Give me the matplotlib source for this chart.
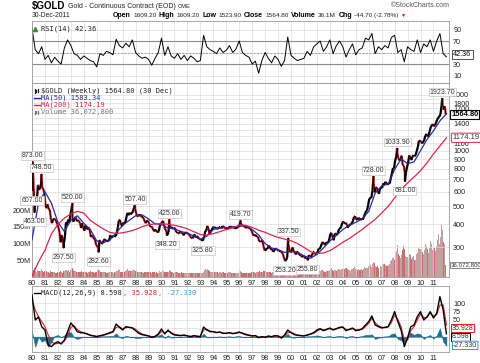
import numpy as np
import matplotlib
matplotlib.use("Agg")
import matplotlib.pyplot as plt
from matplotlib.collections import LineCollection
from matplotlib.lines import Line2D

plt.rcParams['font.family'] = ['Liberation Sans', 'DejaVu Sans']

# monthly closes, Jan 1980 .. Dec 2011
gold_close = [
    690, 637, 494, 518, 535, 653, 614, 631, 666, 629, 619, 590,   # 1980
    506, 489, 513, 482, 479, 426, 406, 425, 428, 427, 414, 400,   # 1981
    384, 362, 320, 350, 335, 315, 342, 411, 397, 424, 410, 448,   # 1982
    481, 420, 414, 430, 437, 416, 422, 416, 405, 382, 405, 383,   # 1983
    370, 394, 388, 375, 384, 373, 342, 348, 343, 333, 329, 309,   # 1984
    303, 299, 329, 321, 314, 317, 327, 333, 326, 325, 325, 327,   # 1985
    350, 338, 344, 346, 343, 346, 357, 384, 418, 423, 398, 391,   # 1986
    408, 405, 409, 438, 461, 448, 462, 453, 460, 468, 492, 487,   # 1987
    458, 442, 444, 451, 451, 437, 437, 431, 413, 406, 420, 418,   # 1988
    404, 388, 390, 384, 371, 367, 375, 365, 362, 367, 394, 401,   # 1989
    410, 417, 393, 374, 369, 352, 362, 395, 389, 381, 381, 378,   # 1990
    383, 363, 363, 358, 357, 367, 362, 356, 349, 359, 360, 361,   # 1991
    354, 354, 345, 338, 337, 341, 353, 340, 345, 344, 335, 334,   # 1992
    329, 329, 330, 342, 367, 371, 392, 379, 355, 364, 373, 383,   # 1993
    387, 382, 384, 377, 381, 385, 385, 380, 391, 389, 384, 379,   # 1994
    379, 377, 382, 391, 385, 387, 386, 383, 383, 383, 386, 387,   # 1995
    400, 405, 396, 393, 392, 385, 383, 387, 383, 381, 378, 369,   # 1996
    355, 347, 352, 344, 344, 341, 324, 324, 323, 325, 306, 289,   # 1997
    289, 297, 296, 308, 299, 292, 293, 284, 289, 296, 294, 291,   # 1998
    287, 287, 286, 282, 277, 262, 256, 257, 265, 311, 293, 283,   # 1999
    284, 300, 286, 280, 275, 285, 282, 274, 273, 270, 266, 272,   # 2000
    265, 262, 263, 260, 272, 270, 268, 272, 283, 283, 276, 276,   # 2001
    282, 295, 294, 302, 314, 321, 313, 310, 319, 317, 319, 333,   # 2002
    356, 359, 340, 328, 355, 356, 351, 360, 378, 379, 389, 407,   # 2003
    414, 405, 406, 404, 384, 392, 398, 400, 405, 420, 439, 442,   # 2004
    424, 423, 434, 429, 422, 430, 424, 437, 456, 470, 476, 510,   # 2005
    549, 555, 557, 610, 676, 596, 633, 632, 598, 585, 627, 629,   # 2006
    631, 665, 655, 679, 666, 655, 665, 665, 712, 754, 806, 803,   # 2007
    889, 922, 968, 909, 888, 889, 939, 839, 829, 760, 760, 816,   # 2008
    858, 943, 924, 890, 928, 945, 934, 949, 996, 1043, 1127, 1134,  # 2009
    1117, 1095, 1114, 1148, 1205, 1232, 1193, 1215, 1271, 1343, 1370, 1391,  # 2010
    1356, 1372, 1424, 1473, 1510, 1529, 1572, 1756, 1772, 1666, 1739, 1564.8,  # 2011
]

# weekly volume level per month, millions
gold_volume = [
    24, 20, 26, 18, 16, 20, 17, 19, 24, 18, 15, 17,
    16, 18, 15, 14, 13, 17, 15, 14, 16, 13, 12, 14,
    13, 15, 18, 14, 13, 19, 17, 22, 18, 20, 16, 21,
    26, 28, 20, 17, 18, 15, 16, 14, 15, 17, 14, 16,
    15, 14, 16, 13, 14, 15, 17, 15, 14, 13, 15, 16,
    18, 20, 22, 16, 15, 14, 16, 15, 14, 13, 14, 15,
    16, 14, 15, 13, 14, 15, 17, 19, 24, 20, 16, 15,
    18, 16, 17, 22, 25, 18, 20, 17, 18, 21, 22, 19,
    17, 16, 15, 14, 15, 16, 14, 13, 15, 14, 16, 15,
    14, 15, 13, 14, 16, 15, 13, 14, 12, 13, 17, 16,
    20, 17, 16, 15, 14, 16, 15, 22, 18, 16, 14, 13,
    16, 14, 15, 12, 13, 12, 14, 13, 12, 13, 12, 11,
    12, 11, 13, 12, 11, 12, 13, 11, 12, 11, 12, 11,
    12, 13, 14, 20, 24, 22, 25, 20, 17, 15, 14, 16,
    15, 14, 16, 14, 13, 15, 14, 13, 15, 14, 13, 12,
    13, 12, 14, 15, 13, 12, 13, 12, 11, 12, 11, 12,
    17, 19, 14, 13, 12, 13, 12, 11, 12, 11, 13, 14,
    16, 15, 14, 13, 15, 14, 18, 15, 14, 16, 18, 17,
    19, 15, 14, 16, 15, 13, 14, 15, 17, 16, 14, 13,
    14, 13, 15, 14, 17, 19, 20, 16, 22, 24, 16, 13,
    14, 18, 15, 12, 13, 14, 12, 11, 12, 11, 12, 13,
    12, 13, 12, 14, 17, 14, 12, 13, 18, 15, 13, 12,
    16, 20, 17, 18, 22, 20, 18, 16, 19, 17, 18, 20,
    24, 26, 22, 18, 22, 20, 19, 21, 24, 22, 23, 25,
    27, 24, 26, 28, 24, 20, 22, 19, 23, 26, 29, 24,
    22, 21, 24, 20, 22, 24, 20, 23, 30, 28, 26, 34,
    38, 35, 30, 40, 46, 42, 34, 30, 33, 28, 32, 30,
    36, 40, 38, 35, 32, 34, 36, 38, 48, 52, 58, 50,
    72, 78, 95, 70, 62, 58, 66, 80, 92, 85, 62, 60,
    58, 70, 65, 55, 60, 62, 50, 52, 68, 72, 88, 84,
    82, 75, 70, 80, 100, 92, 85, 72, 88, 108, 98, 80,
    86, 78, 92, 110, 130, 98, 120, 159, 140, 105, 100, 36,
]

# annotated swing highs / lows
swing_dates = [1980.0, 1980.055, 1980.2, 1980.72, 1982.45, 1983.12, 1985.15, 1987.95,
               1990.42, 1990.6, 1993.2, 1996.1, 1999.55, 1999.78, 2001.3, 2006.37,
               2008.2, 2008.8, 2011.68]
swing_values = [607.0, 873.0, 463.0, 748.5, 297.5, 520.0, 282.6, 507.4,
                348.2, 425.0, 325.8, 419.7, 253.2, 337.5, 255.8, 728.0,
                1033.9, 681.0, 1923.7]
swing_side = ['low', 'high', 'low', 'high', 'low', 'high', 'low', 'high',
              'low', 'high', 'low', 'high', 'low', 'high', 'low', 'high',
              'high', 'low', 'high']

# moving averages, every half year 1980.0 .. 2012.0
ma_dates = [1980 + 0.5 * i for i in range(65)]
ma50 = [330, 520, 600, 520, 410, 366, 420, 445, 405, 375, 325, 318, 328, 360, 395, 420,
        445, 450, 428, 402, 400, 382, 378, 366, 358, 346, 332, 345, 375, 383, 384, 387,
        390, 393, 375, 350, 315, 298, 292, 282, 285, 283, 270, 262, 275, 298, 325, 348,
        375, 395, 410, 428, 470, 590, 645, 660, 790, 905, 850, 870, 1000, 1150, 1280, 1450,
        1583.34]
ma200 = [210, 250, 290, 355, 400, 432, 455, 470, 460, 420, 398, 378, 362, 357, 360, 366,
         375, 388, 398, 402, 403, 400, 395, 388, 378, 365, 352, 350, 356, 365, 375, 383,
         396, 395, 385, 372, 362, 350, 340, 333, 326, 315, 300, 285, 278, 280, 288, 303,
         320, 335, 355, 375, 400, 425, 460, 500, 555, 615, 670, 720, 780, 860, 960, 1060,
         1174.19]

# RSI(14), MACD(12,26,9) read quarterly 1980.0 .. 2012.0
ind_dates = [1980 + 0.25 * i for i in range(129)]
rsi = [92, 55, 48, 60, 38, 45, 32, 42, 35, 30, 58, 72, 62, 48, 45, 38,
       44, 40, 36, 34, 25, 48, 45, 52, 50, 46, 73, 62, 58, 66, 60, 72,
       50, 44, 40, 42, 38, 28, 40, 50, 75, 45, 60, 44, 40, 48, 38, 45,
       36, 44, 40, 34, 36, 80, 60, 55, 52, 48, 58, 50, 54, 62, 50, 56,
       70, 50, 45, 42, 30, 35, 14, 36, 50, 40, 32, 44, 38, 26, 36, 77,
       45, 40, 36, 38, 40, 52, 45, 60, 65, 70, 52, 60, 72, 48, 62, 70,
       60, 42, 55, 65, 46, 55, 58, 75, 72, 83, 48, 60, 55, 62, 58, 76,
       80, 50, 55, 34, 60, 55, 52, 72, 50, 65, 60, 72, 52, 70, 83, 48,
       42.36]
macd = [125, 50, 59, 30, 20, -25, -30, -20, -15, -22, -10, 15, 41, 30, 15, 12,
        11, 8, 4, 2, 0, 3, 5, 8, 12, 15, 38, 28, 20, 30, 28, 26,
        18, 10, 6, 4, 2, -2, 1, 8, 23, 8, 20, 10, 5, 4, 3, 5,
        2, 0, 3, 1, 0, 29, 20, 15, 15, 12, 14, 10, 10, 12, 9, 11,
        14, 10, 6, 4, 2, 3, -3, 0, -2, 2, 0, 3, 2, -4, 5, 20,
        12, 6, 4, 3, 2, 5, 8, 12, 20, 24, 18, 22, 26, 20, 24, 28,
        29, 18, 22, 26, 18, 20, 24, 35, 45, 62, 35, 30, 26, 28, 30, 50,
        75, 45, 20, -30, -4, 30, 35, 60, 75, 50, 59, 75, 56, 70, 120, 80,
        8.598]
signal = [110, 80, 60, 45, 30, 5, -15, -22, -20, -20, -14, 2, 28, 32, 22, 15,
          12, 9, 5, 3, 1, 2, 4, 7, 10, 13, 28, 30, 24, 27, 28, 27,
          22, 14, 8, 5, 3, 0, 0, 5, 16, 12, 16, 13, 7, 5, 4, 4,
          3, 1, 2, 2, 1, 20, 22, 17, 15, 13, 13, 11, 10, 11, 10, 10,
          12, 11, 8, 5, 3, 3, -1, -1, -1, 1, 0, 2, 2, -1, 2, 12,
          14, 9, 5, 4, 3, 4, 7, 10, 16, 22, 20, 21, 24, 22, 23, 26,
          28, 22, 21, 24, 21, 20, 22, 30, 40, 55, 42, 33, 28, 27, 29, 42,
          65, 52, 30, -10, -10, 18, 30, 50, 68, 57, 58, 70, 62, 66, 95, 95,
          35.928]

year_ticks = list(range(1980, 2012))
year_labels = [str(y)[2:] for y in year_ticks]
price_grid = [300, 400, 500, 600, 700, 800, 900, 1000, 1100, 1200, 1300, 1400,
              1500, 1600, 1700, 1800, 1900, 2000]
price_labelled = [300, 400, 500, 600, 700, 800, 900, 1000, 1100, 1400, 1700, 1800, 2000]
volume_ticks = [50, 100, 150, 200]

GRID = '#dcdcdc'
EDGE = '#9a9a9a'
MONO = 'DejaVu Sans Mono'

fig = plt.figure(figsize=(4.8, 3.63), dpi=100)
W, H = 480.0, 363.0
renderer = fig.canvas.get_renderer()


def panel(top, bottom):
    return fig.add_axes([32 / W, 1 - bottom / H, 417 / W, (bottom - top) / H])


def style(a, show_years):
    a.set_xlim(1980, 2012.2)
    a.set_xticks(year_ticks)
    a.set_xticklabels(year_labels if show_years else [])
    a.tick_params(axis='x', length=0, pad=2, labelsize=5.3, colors='#222222')
    a.tick_params(axis='y', length=0, pad=3, labelsize=5.2, colors='#222222')
    a.yaxis.tick_right()
    a.grid(True, color=GRID, lw=0.5)
    a.set_axisbelow(True)
    for s in a.spines.values():
        s.set_color(EDGE)
        s.set_linewidth(0.6)


def flow(x0, y, pieces, gap=2.0):
    x = x0
    for txt, bold, size, color in pieces:
        t = fig.text(x / W, 1 - y / H, txt, fontsize=size, color=color,
                     fontweight='bold' if bold else 'normal', va='center')
        x = t.get_window_extent(renderer).x1 + gap
    return x


# ---- RSI panel ----
ax_rsi = panel(21, 83)
style(ax_rsi, False)
ax_rsi.set_ylim(-3, 104.8)
ax_rsi.set_yticks([10, 30, 50, 70, 90])
ax_rsi.set_yticklabels(['10', '30', '', '70', '90'])
ax_rsi.axhline(70, color='#8c8c8c', lw=0.8)
ax_rsi.axhline(30, color='#8c8c8c', lw=0.8)
ax_rsi.axhline(50, color='#9a9a9a', lw=0.7, ls=(0, (2, 1.5)))
ax_rsi.plot(ind_dates, rsi, color='black', lw=0.7)
ax_rsi.text(0.022, 0.93, 'RSI(14) 42.36', transform=ax_rsi.transAxes, fontsize=5,
            family=MONO, va='top', color='#222222')
ax_rsi.plot([0.008], [0.87], marker='^', ms=3, color='#3a8a3a', transform=ax_rsi.transAxes,
            clip_on=False)
ax_rsi.annotate('42.36', xy=(1.0, rsi[-1]), xycoords=('axes fraction', 'data'),
                xytext=(3, 1.5), textcoords='offset points', fontsize=5.2, va='center',
                bbox=dict(boxstyle='square,pad=0.15', fc='white', ec='#333333', lw=0.6),
                annotation_clip=False)

# ---- price panel ----
ax = panel(83, 277)
ax_vol = ax.twinx()
ax.set_zorder(2)
ax.patch.set_visible(False)
ax_vol.set_zorder(1)

months_x = 1980 + (np.arange(len(gold_close)) + 0.5) / 12
prev = np.concatenate([[gold_close[0]], gold_close[:-1]])
vol_colors = np.where(np.array(gold_close) < prev, '#cd6e6e', '#c4a0a0')
ax_vol.bar(months_x, gold_volume, width=1 / 12, color=vol_colors, linewidth=0)
ax_vol.set_ylim(0, 581)
ax_vol.set_yticks(volume_ticks)
ax_vol.set_yticklabels([f'{v}M' for v in volume_ticks])
ax_vol.yaxis.tick_left()
ax_vol.tick_params(axis='y', length=0, pad=1, labelsize=5.2, colors='#222222')
for s in ax_vol.spines.values():
    s.set_visible(False)

style(ax, True)
ax.set_yscale('log')
ax.set_ylim(207.6, 2322)
ax.set_yticks(price_grid)
ax.set_yticklabels([str(p) if p in price_labelled else '' for p in price_grid])
ax.minorticks_off()
ax.tick_params(axis='y', which='both', length=0)

px = np.concatenate([months_x, swing_dates])
py = np.concatenate([gold_close, swing_values])
order = np.argsort(px)
px, py = px[order], py[order]
pts = np.column_stack([px, py])
segs = np.stack([pts[:-1], pts[1:]], axis=1)
seg_cols = ['#d01010' if b < a else 'black' for a, b in zip(py[:-1], py[1:])]
ax.add_collection(LineCollection(segs, colors=seg_cols, linewidths=1.6, zorder=3))
ax.plot(px, py, color='black', lw=0.5, zorder=4)

ax.plot(ma_dates, ma50, color='#2a2aa8', lw=0.9, zorder=5)
ax.plot(ma_dates, ma200, color='#e0244c', lw=0.9, zorder=5)

for d, v, side in zip(swing_dates, swing_values, swing_side):
    off = 4.3 if side == 'high' else -6.8
    ax.annotate(f'{v:.2f}', xy=(d, v), xytext=(0, off), textcoords='offset points',
                ha='center', va='center', fontsize=5, color='#333333', zorder=6,
                bbox=dict(boxstyle='square,pad=0.12', fc='white', ec='#c4c4c4', lw=0.5))

legend_rows = [('$GOLD (Weekly) 1564.80 (30 Dec)', '#222222'),
               ('MA(50) 1583.34', '#2a2aa8'),
               ('MA(200) 1174.19', '#e0244c'),
               ('Volume 36,072,800', '#777777')]
for i, (txt, col) in enumerate(legend_rows):
    yy = 0.96 - i * 0.037
    ax.text(0.022, yy, txt, transform=ax.transAxes, fontsize=5, family=MONO,
            color=col, va='center', zorder=7)
    if i in (1, 2):
        ax.add_line(Line2D([0.004, 0.018], [yy, yy], color=col, lw=1.0,
                           transform=ax.transAxes, zorder=7))
    else:
        for k, h in enumerate([0.018, 0.01, 0.014]):
            xk = 0.006 + k * 0.004
            ax.add_line(Line2D([xk, xk], [yy - h / 2, yy + h / 2], color=col, lw=0.9,
                               transform=ax.transAxes, zorder=7))

tag = dict(xycoords=('axes fraction', 'data'), textcoords='offset points',
           va='center', annotation_clip=False, zorder=8)
ax.annotate('1564.80', xy=(1.0, gold_close[-1]), xytext=(1.5, 0), fontsize=5.4,
            fontweight='bold', bbox=dict(boxstyle='square,pad=0.15', fc='white', ec='black', lw=0.8),
            **tag)
ax.annotate('1174.19', xy=(1.0, ma200[-1]), xytext=(2.5, 0), fontsize=5.4, color='#333333',
            bbox=dict(boxstyle='round,pad=0.15', fc='white', ec='#e0244c', lw=0.7), **tag)
ax_vol.annotate('36,072,800', xy=(1.0, gold_volume[-1]), xytext=(1.2, 0), fontsize=4.4,
                color='#333333', bbox=dict(boxstyle='square,pad=0.1', fc='white', ec='#777777', lw=0.6),
                **tag)

# ---- MACD panel ----
ax_m = panel(286, 352)
style(ax_m, True)
ax_m.set_ylim(-46, 152)
ax_m.set_yticks([-25, 0, 25, 50, 75, 100])
ax_m.set_yticklabels(['', '', '', '50', '75', '100'])
hist = np.array(macd) - np.array(signal)
ax_m.fill_between(ind_dates, 0, hist, color='#1f6f8f', lw=0.4, zorder=2)
ax_m.plot(ind_dates, signal, color='#e02020', lw=0.8, zorder=3)
ax_m.plot(ind_dates, macd, color='black', lw=1.0, zorder=4)
ax_m.add_line(Line2D([0.004, 0.018], [0.9, 0.9], color='black', lw=1.0,
                     transform=ax_m.transAxes))
ax_m.text(0.022, 0.9, 'MACD(12,26,9) 8.598', transform=ax_m.transAxes, fontsize=5,
          family=MONO, va='center', color='#222222')
ax_m.text(0.218, 0.9, ', 35.928', transform=ax_m.transAxes, fontsize=5,
          family=MONO, va='center', color='#e02020')
ax_m.text(0.302, 0.9, ', -27.330', transform=ax_m.transAxes, fontsize=5,
          family=MONO, va='center', color='#3399cc')
ax_m.annotate('35.928', xy=(1.0, signal[-1]), xytext=(2, -2.6), fontsize=5.0, color='#333333',
              bbox=dict(boxstyle='square,pad=0.1', fc='white', ec='#e02020', lw=0.7), **tag)
ax_m.annotate('8.598', xy=(1.0, macd[-1]), xytext=(2, -2.2), fontsize=5.0, color='#333333',
              bbox=dict(boxstyle='square,pad=0.1', fc='white', ec='black', lw=0.7), **tag)
ax_m.annotate('-27.330', xy=(1.0, hist[-1]), xytext=(3, 0.3), fontsize=5.0, color='#333333',
              bbox=dict(boxstyle='round,pad=0.1', fc='white', ec='#3399cc', lw=0.7), **tag)

# ---- header ----
flow(32, 6.5, [('$GOLD', True, 7, 'black'),
               ('Gold - Continuous Contract (EOD)', False, 5.0, '#222222'),
               ('CME', False, 4.2, '#222222')], gap=2.5)
fig.text(450 / W, 1 - 5.5 / H, '\u00a9StockCharts.com', fontsize=5, va='center', ha='right',
         color='#555555')
fig.text(32 / W, 1 - 15.5 / H, '30-Dec-2011', fontsize=4.9, va='center', color='#222222')
flow(113, 15.5, [('Open', True, 5.0, 'black'), ('1609.20', False, 4.6, '#222222'),
                 ('High', True, 5.0, 'black'), ('1609.20', False, 4.6, '#222222'),
                 ('Low', True, 5.0, 'black'), ('1523.90', False, 4.6, '#222222'),
                 ('Close', True, 5.0, 'black'), ('1564.80', False, 4.6, '#222222'),
                 ('Volume', True, 5.0, 'black'), ('36.1M', False, 4.6, '#222222'),
                 ('Chg', True, 5.0, 'black'), ('-44.70 (-2.78%)', False, 4.6, '#222222'),
                 ('\u25bc', False, 3.8, '#dd1111')], gap=2.3)

fig.savefig('out.png', dpi=100)
